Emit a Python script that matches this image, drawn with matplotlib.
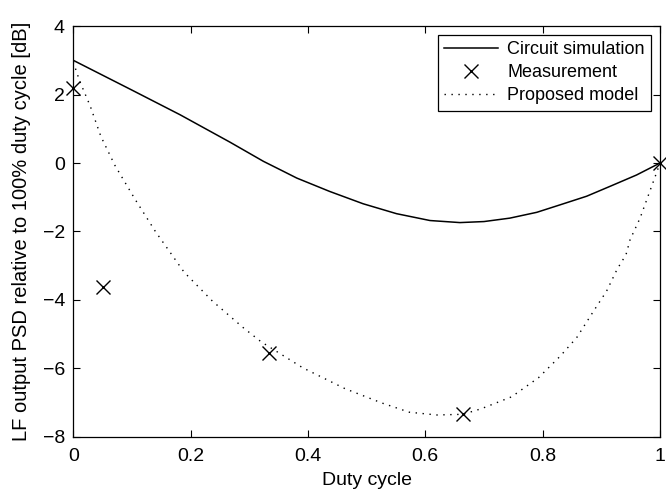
import matplotlib
matplotlib.use('Agg')
import matplotlib.pyplot as plt

plt.rcParams['font.family'] = ['Liberation Sans', 'DejaVu Sans']

# circuit simulation (solid)
sim_x = [0, 0.1, 0.182, 0.216, 0.267, 0.324, 0.352, 0.381, 0.437, 0.494, 0.551,
         0.608, 0.659, 0.70, 0.744, 0.79, 0.83, 0.875, 0.915, 0.96, 1.0]
sim_y = [3.0, 2.13, 1.41, 1.09, 0.61, 0.05, -0.19, -0.44, -0.83, -1.19, -1.48,
         -1.68, -1.74, -1.71, -1.61, -1.44, -1.22, -0.97, -0.68, -0.35, 0.0]

# measurements
meas_x = [0.0, 0.05, 0.333, 0.664, 1.0]
meas_y = [2.2, -3.62, -5.56, -7.34, 0.0]

# proposed model (dotted)
mod_x = [0, 0.011, 0.029, 0.047, 0.071, 0.105, 0.14, 0.189, 0.237, 0.289, 0.32,
         0.391, 0.463, 0.526, 0.573, 0.62, 0.664, 0.695, 0.747, 0.793, 0.83,
         0.858, 0.887, 0.909, 0.927, 0.942, 0.949, 0.966, 0.994, 1.0]
mod_y = [2.95, 2.39, 1.66, 0.78, -0.07, -1.05, -2.0, -3.19, -4.03, -4.8, -5.22,
         -5.98, -6.59, -7.01, -7.28, -7.36, -7.34, -7.18, -6.83, -6.27, -5.64,
         -5.10, -4.32, -3.74, -3.10, -2.68, -2.24, -1.61, -0.29, 0.0]

fig = plt.figure(figsize=(6.66, 4.92), dpi=100)
ax = fig.add_axes([0.110, 0.112, 0.881, 0.835])

ax.plot(sim_x, sim_y, color='black', lw=1.1, label='Circuit simulation')
ax.plot(meas_x, meas_y, 'x', color='black', ms=10, mew=1.0, label='Measurement',
        clip_on=False)
ax.plot(mod_x, mod_y, color='black', lw=1.0, linestyle=(0, (1, 4)),
        label='Proposed model')

ax.set_xlim(0, 1)
ax.set_ylim(-8, 4)
ax.set_xticks([0, 0.2, 0.4, 0.6, 0.8, 1])
ax.set_xticklabels(['0', '0.2', '0.4', '0.6', '0.8', '1'])
ax.set_yticks([-8, -6, -4, -2, 0, 2, 4])
ax.set_yticklabels(['\u22128', '\u22126', '\u22124', '\u22122', '0', '2', '4'])
ax.tick_params(direction='in', top=True, right=True, length=5, width=0.8,
               labelsize=14)
ax.tick_params(axis='x', pad=8)
ax.tick_params(axis='y', pad=6)
for s in ax.spines.values():
    s.set_linewidth(0.9)

ax.set_xlabel('Duty cycle', fontsize=14, labelpad=5)
ax.set_ylabel('LF output PSD relative to 100% duty cycle [dB]', fontsize=14.5,
              labelpad=8)

leg = ax.legend(loc='upper right', fontsize=13, fancybox=False, framealpha=1,
                edgecolor='black', borderaxespad=0.5, handlelength=3.0,
                labelspacing=0.33, borderpad=0.35, handletextpad=0.5)
leg.get_frame().set_linewidth(0.9)

fig.savefig('out.png', dpi=100)
